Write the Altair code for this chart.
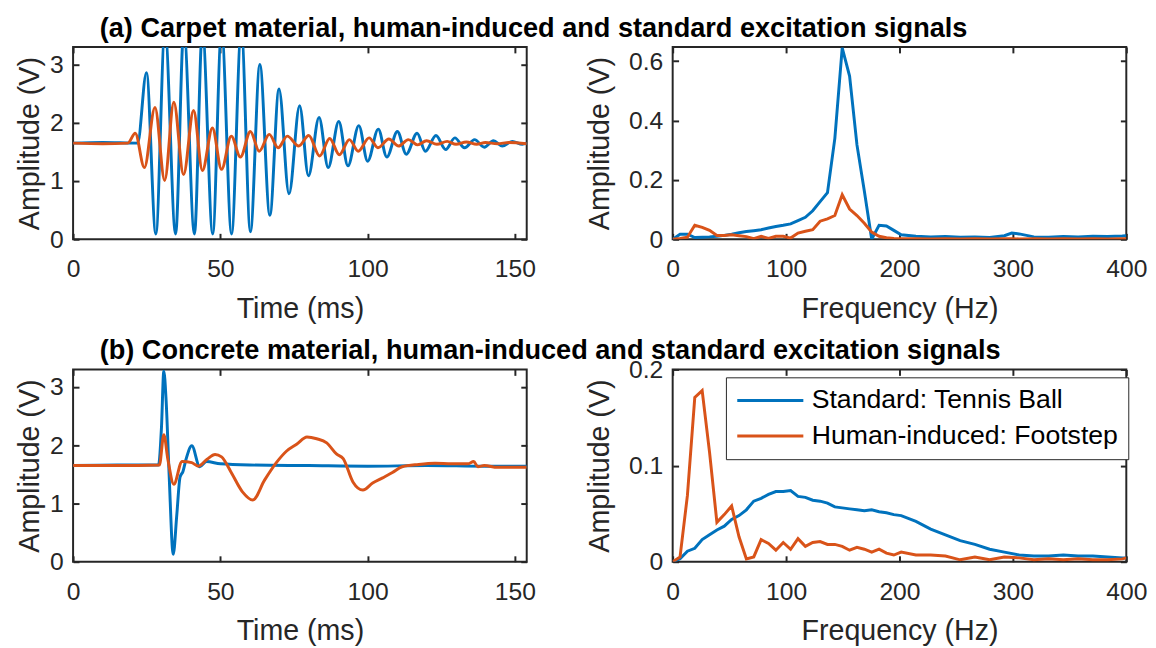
import altair as alt
import pandas as pd

STD = "Standard: Tennis Ball"
HUM = "Human-induced: Footstep"
BLUE = "#0072BD"
ORANGE = "#D95319"
AX = "#262626"
FONT = "Liberation Sans"

# ---------- (a) carpet, time domain (ms, V) : peaks / troughs ----------
t_carpet_std = [0, 10, 21.9, 24.9, 28.1, 31.2, 34.8, 37.6, 41.2, 43.9, 47.4, 50.4, 53.8, 57.1,
                60.2, 63.4, 66.8, 69.9, 73.3, 76.9, 79.9, 83.5, 86.6, 90.2, 93.3, 97.0, 100.0,
                103.6, 106.5, 110.1, 113.1, 116.8, 119.6, 123.2, 126.5, 129.6, 132.9, 136.3,
                139.6, 142.7, 145.7, 149.1, 152.5, 154]
v_carpet_std = [1.65, 1.66, 1.65, 2.86, 0.09, 3.6, 0.09, 3.6, 0.09, 3.6, 0.09, 3.6, 0.09, 3.6,
                0.13, 3.0, 0.41, 2.58, 0.78, 2.29, 1.09, 2.09, 1.23, 2.02, 1.26, 1.95, 1.34,
                1.89, 1.41, 1.85, 1.46, 1.82, 1.51, 1.78, 1.54, 1.74, 1.57, 1.71,
                1.58, 1.69, 1.60, 1.68, 1.63, 1.65]
t_carpet_hum = [0, 10, 18.6, 21.1, 24.2, 27.8, 31.1, 34.2, 37.5, 40.9, 43.9, 47.3, 50.4,
                53.7, 56.8, 60.2, 63.2, 66.6, 69.6, 72.7, 76.6, 80.0, 83.7,
                87.1, 90.4, 93.8, 96.8, 100.5, 103.5, 107.2, 110.5, 113.8, 117.0,
                120.0, 123.5, 127.0, 130.0, 133.5, 137.0, 140.0, 144.0, 148.0, 154.0]
v_carpet_hum = [1.65, 1.64, 1.65, 1.82, 1.23, 2.26, 1.01, 2.35, 1.11, 2.21, 1.18, 1.91, 1.20,
                1.77, 1.41, 1.85, 1.51, 1.80, 1.57, 1.77, 1.60, 1.78, 1.43,
                1.73, 1.45, 1.71, 1.51, 1.74, 1.57, 1.72, 1.60, 1.71, 1.62,
                1.69, 1.63, 1.68, 1.63, 1.67, 1.63, 1.66, 1.64, 1.66, 1.64]

# ---------- (a) carpet, frequency domain (Hz, V) ----------
f_carpet = [0, 6.5, 13, 19.5, 26, 32.5, 39, 45.5, 52, 58.5, 65, 71.5, 78, 84.5, 91, 97.5, 104,
            110.5, 117, 123.5, 130, 136.5, 143, 149.5, 156, 162.5, 169, 175.5, 182, 188.5, 195,
            201.5, 214.5, 227.5, 240.5, 253.5, 266.5, 279.5, 292.5, 299, 305.5, 318.5, 331.5,
            344.5, 357.5, 370.5, 383.5, 396.5, 400]
a_carpet_std = [0, 0.017, 0.017, 0.006, 0.007, 0.008, 0.010, 0.013, 0.017, 0.022, 0.026, 0.029,
                0.032, 0.038, 0.043, 0.047, 0.052, 0.063, 0.074, 0.096, 0.127, 0.157, 0.34, 0.645,
                0.55, 0.318, 0.163, 0.0, 0.047, 0.045, 0.03, 0.015, 0.010, 0.008, 0.009, 0.007,
                0.008, 0.006, 0.012, 0.021, 0.018, 0.008, 0.007, 0.009, 0.008, 0.010, 0.009,
                0.011, 0.012]
a_carpet_hum = [0, 0.003, 0.007, 0.047, 0.04, 0.03, 0.013, 0.013, 0.015, 0.012, 0.009, 0.002,
                0.010, 0.003, 0.010, 0.010, 0.004, 0.021, 0.027, 0.032, 0.061, 0.069, 0.08, 0.15,
                0.102, 0.08, 0.054, 0.024, 0.010, 0.005, 0.003, 0.002, 0.002, 0.001, 0.002, 0.001,
                0.002, 0.001, 0.002, 0.002, 0.001, 0.002, 0.001, 0.002, 0.001, 0.002, 0.001,
                0.002, 0.002]

# ---------- (b) concrete, time domain ----------
t_conc_std = [0, 15, 29.0, 30.0, 30.8, 31.6, 32.6, 34.0, 35.2, 36.3, 37.3, 38.3, 40.3, 43.0,
              45.3, 50.0, 60.0, 80.0, 100.0, 120.0, 140.0, 154.0]
v_conc_std = [1.65, 1.66, 1.66, 2.3, 3.27, 2.75, 1.5, 0.13, 0.8, 1.45, 1.55, 1.75, 1.99, 1.63,
              1.72, 1.68, 1.66, 1.65, 1.64, 1.65, 1.64, 1.64]
t_conc_hum = [0, 15, 29.3, 30.8, 32.2, 34.2, 37.0, 40.3, 42.5, 45.5, 48.2, 50.4, 53.5, 57.5,
              61.0, 65.0, 69.0, 72.5, 76.0, 79.4, 82.7, 86.1, 89.4, 91.7, 95.0, 98.4, 101.7,
              105.1, 108.4, 111.7, 117.3, 122.9, 128.5, 134.0, 136.0, 137.4, 139.6, 144.1, 154.0]
v_conc_hum = [1.65, 1.65, 1.66, 2.18, 1.75, 1.33, 1.72, 1.70, 1.64, 1.76, 1.84, 1.80, 1.55, 1.20,
              1.06, 1.40, 1.70, 1.90, 2.02, 2.14, 2.11, 2.04, 1.85, 1.77, 1.37, 1.23, 1.35,
              1.44, 1.53, 1.63, 1.67, 1.69, 1.68, 1.68, 1.72, 1.63, 1.65, 1.62, 1.62]

# ---------- (b) concrete, frequency domain ----------
f_conc = [0, 6.5, 13, 19.5, 26, 32.5, 39, 45.5, 52, 58.5, 65, 71.5, 78, 84.5, 91, 97.5, 104,
          110.5, 117, 123.5, 130, 136.5, 143, 149.5, 156, 162.5, 169, 175.5, 182, 188.5, 195,
          201.5, 214.5, 227.5, 240.5, 253.5, 266.5, 279.5, 292.5, 305.5, 318.5, 331.5, 344.5,
          357.5, 370.5, 383.5, 396.5, 400]
a_conc_std = [0, 0.003, 0.011, 0.014, 0.023, 0.028, 0.033, 0.037, 0.044, 0.048, 0.054, 0.063,
              0.066, 0.070, 0.073, 0.073, 0.074, 0.068, 0.067, 0.064, 0.063, 0.061, 0.057, 0.056,
              0.055, 0.054, 0.053, 0.054, 0.052, 0.051, 0.049, 0.048, 0.042, 0.034, 0.028, 0.022,
              0.018, 0.013, 0.010, 0.007, 0.006, 0.006, 0.007, 0.006, 0.006, 0.005, 0.004, 0.004]
a_conc_hum = [0, 0.005, 0.069, 0.171, 0.178, 0.114, 0.041, 0.049, 0.058, 0.026, 0.003, 0.005,
              0.023, 0.019, 0.012, 0.020, 0.013, 0.024, 0.016, 0.020, 0.021, 0.018, 0.018, 0.016,
              0.012, 0.015, 0.013, 0.010, 0.013, 0.009, 0.007, 0.010, 0.007, 0.007, 0.006, 0.002,
              0.005, 0.002, 0.005, 0.004, 0.002, 0.003, 0.002, 0.003, 0.002, 0.002, 0.003, 0.004]

time_ticks = [0, 50, 100, 150]
volt_ticks = [0, 1, 2, 3]
freq_ticks = [0, 100, 200, 300, 400]

TITLE_A = "(a) Carpet material, human-induced and standard excitation signals"
TITLE_B = "(b) Concrete material, human-induced and standard excitation signals"

W, H = 460, 195


def frame(xs, ys, name):
    return pd.DataFrame({"x": xs, "y": ys, "s": name})


def panel(xb, yb, xh, yh, xdom, ydom, xticks, yticks, xtitle, ypad, interp,
          title=None, legend=None):
    df = pd.concat([frame(xb, yb, STD), frame(xh, yh, HUM)], ignore_index=True)
    xsc = alt.Scale(domain=xdom, nice=False, zero=False)
    ysc = alt.Scale(domain=ydom, nice=False, zero=False)
    col = alt.Color("s:N", scale=alt.Scale(domain=[STD, HUM], range=[BLUE, ORANGE]),
                    legend=legend)
    xax = alt.Axis(values=xticks, orient="bottom", title=xtitle, offset=-6, tickSize=6,
                   labelPadding=18, titlePadding=13, format="~r")
    yax = alt.Axis(values=yticks, orient="left", title="Amplitude (V)", offset=-6, tickSize=6,
                   labelPadding=10, titlePadding=ypad, format="~r")

    blue = alt.Chart(df).transform_filter(alt.datum.s == STD).mark_line(
        strokeWidth=3, clip=True, interpolate=interp).encode(
        x=alt.X("x:Q", scale=xsc, axis=xax),
        y=alt.Y("y:Q", scale=ysc, axis=yax),
        color=col)
    orange = alt.Chart(df).transform_filter(alt.datum.s == HUM).mark_line(
        strokeWidth=3, clip=True, interpolate=interp).encode(
        x=alt.X("x:Q", scale=xsc, axis=None),
        y=alt.Y("y:Q", scale=ysc, axis=None),
        color=col)
    box = alt.Chart(df).mark_line(opacity=0, clip=True).encode(
        x=alt.X("x:Q", scale=xsc, axis=alt.Axis(values=xticks, orient="top", labels=False,
                                                  title=None, offset=-6, tickSize=6)),
        y=alt.Y("y:Q", scale=ysc, axis=alt.Axis(values=yticks, orient="right", labels=False,
                                                  title=None, offset=-6, tickSize=6)))
    ch = alt.layer(blue, orange, box).resolve_axis(x="independent", y="independent")
    props = dict(width=W, height=H)
    if title:
        props["title"] = alt.TitleParams(text=title, anchor="start", frame="group", dx=27,
                                         fontSize=27.5, font=FONT, fontWeight="bold",
                                         color="black", baseline="alphabetic", offset=-18)
    return ch.properties(**props)


legend = alt.Legend(orient="none", legendX=54, legendY=8, title=None, symbolType="stroke",
                    symbolSize=4489, symbolStrokeWidth=3, labelFontSize=27, labelFont=FONT,
                    labelColor="black", strokeColor=AX, fillColor="white", padding=10,
                    rowPadding=8, clipHeight=27, labelOffset=7, labelLimit=0)

p1 = panel(t_carpet_std, v_carpet_std, t_carpet_hum, v_carpet_hum, [0, 154], [0, 3.3],
           time_ticks, volt_ticks, "Time (ms)", 5, "monotone", title=TITLE_A)
p2 = panel(f_carpet, a_carpet_std, f_carpet, a_carpet_hum, [0, 400], [0, 0.648],
           freq_ticks, [0, 0.2, 0.4, 0.6], "Frequency (Hz)", 14, "linear")
p3 = panel(t_conc_std, v_conc_std, t_conc_hum, v_conc_hum, [0, 154], [0, 3.3],
           time_ticks, volt_ticks, "Time (ms)", 5, "monotone", title=TITLE_B)
p4 = panel(f_conc, a_conc_std, f_conc, a_conc_hum, [0, 400], [0, 0.2],
           freq_ticks, [0, 0.1, 0.2], "Frequency (Hz)", 14, "linear", legend=legend)

chart = alt.concat(p1, p2, p3, p4, columns=2, spacing={"row": 132, "column": 148},
                   bounds="flush").resolve_scale(color="independent").configure(
    padding={"left": 7, "top": 1, "right": 0, "bottom": 0},
    background="white",
).configure_view(stroke=AX, strokeWidth=2).configure_axis(
    labelFont=FONT, titleFont=FONT, labelFontSize=25, titleFontSize=29,
    labelColor=AX, titleColor=AX, tickColor=AX, tickWidth=2, domain=False, grid=False,
    titleFontWeight="normal", labelFlush=False, labelOverlap=False)

chart.save("out.html", embed_options={"renderer": "svg", "actions": False})
